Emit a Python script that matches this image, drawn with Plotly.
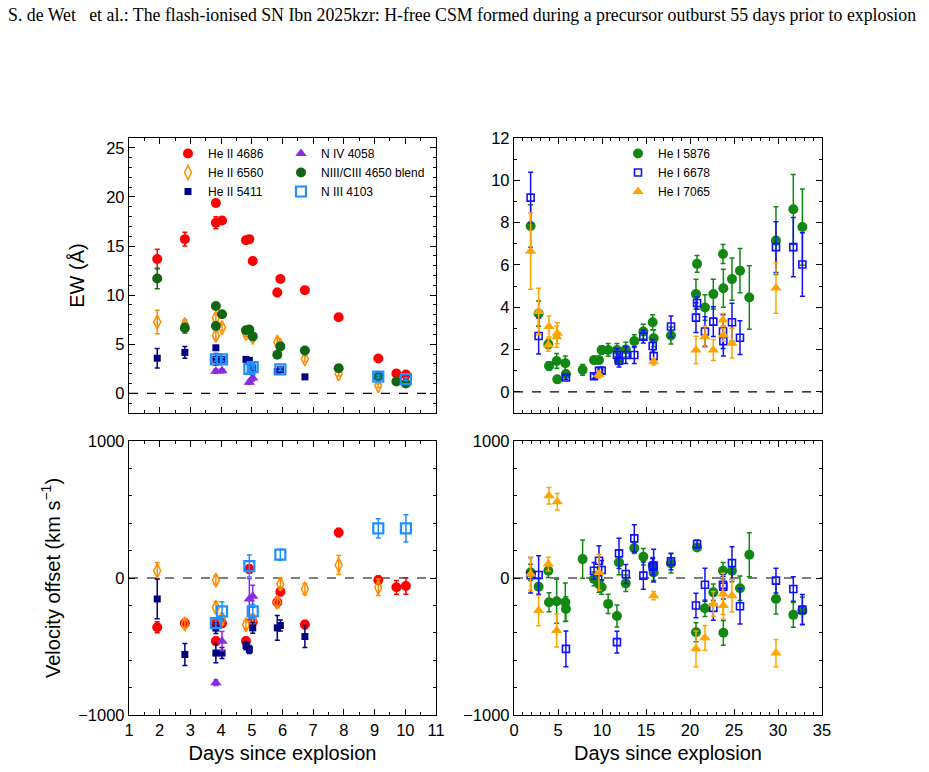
import plotly.graph_objects as go

# ---------------- He II / N lines (left panels) ----------------
heii4686_t = [1.92, 2.82, 3.83, 3.83, 4.03, 4.81, 4.92, 5.03, 5.83, 5.93, 6.73, 7.83, 9.12, 9.71, 10.02]
heii4686_ew = [13.68, 15.7, 19.38, 17.37, 17.6, 15.6, 15.7, 13.48, 10.27, 11.64, 10.51, 7.75, 3.55, 2.02, 1.91]
heii4686_ew_err = [1.0, 0.7, 0.3, 0.6, 0.3, 0.2, 0.2, 0.2, 0.4, 0.2, 0.2, 0.2, 0.2, 0.2, 0.2]
heii4686_v = [-359, -330, -461, -330, -330, -461, 65, -320, -177, -100, -340, 332, -15, -68, -58]
heii4686_v_err = [40, 30, 30, 30, 30, 30, 30, 30, 30, 30, 30, 30, 30, 50, 60]

heii6560_t = [1.92, 2.82, 3.83, 3.83, 4.03, 4.81, 5.03, 5.83, 5.93, 6.73, 7.83, 9.12]
heii6560_ew = [7.27, 7.0, 7.68, 5.9, 6.7, 6.1, 5.7, 5.22, 4.9, 3.52, 1.98, 0.79]
heii6560_ew_err = [1.2, 0.5, 0.4, 0.4, 0.3, 0.3, 0.3, 0.4, 0.3, 0.3, 0.2, 0.2]
heii6560_v = [53, -335, -15, -214, -300, -342, -306, -177, -44, -80, 95, -68]
heii6560_v_err = [60, 30, 30, 40, 40, 30, 40, 40, 40, 40, 70, 60]

heii5411_t = [1.92, 2.82, 3.83, 3.83, 4.03, 4.81, 4.92, 5.03, 5.83, 5.93, 6.73]
heii5411_ew = [3.58, 4.17, 4.64, 3.46, 3.46, 3.46, 3.36, 2.6, 2.22, 2.4, 1.68]
heii5411_ew_err = [1.0, 0.6, 0.15, 0.6, 0.2, 0.2, 0.2, 0.2, 0.2, 0.15, 0.15]
heii5411_v = [-153, -558, -366, -548, -548, -493, -522, -364, -364, -347, -427]
heii5411_v_err = [145, 80, 40, 70, 40, 30, 30, 40, 90, 40, 80]

niv4058_t = [3.83, 4.03, 4.92, 5.03]
niv4058_ew = [2.25, 2.3, 1.13, 1.57]
niv4058_ew_err = [0.2, 0.2, 0.2, 0.3]
niv4058_v = [-764, -461, -153, -133]
niv4058_v_err = [20, 70, 150, 80]

niii4650_t = [1.92, 2.82, 3.83, 3.83, 4.03, 4.81, 4.92, 5.03, 5.83, 5.93, 6.73, 7.83, 9.12, 9.71, 10.02]
niii4650_ew = [11.7, 6.65, 8.9, 6.86, 8.06, 6.42, 6.49, 5.8, 3.93, 4.78, 4.37, 2.56, 1.71, 1.2, 1.0]
niii4650_ew_err = [1.05, 0.5, 0.2, 0.2, 0.2, 0.2, 0.2, 0.2, 0.2, 0.2, 0.2, 0.2, 0.2, 0.1, 0.1]

niii4103_t = [3.83, 4.03, 4.92, 5.03, 5.93, 9.12, 10.02]
niii4103_ew = [3.46, 3.46, 2.5, 2.67, 2.45, 1.71, 1.45]
niii4103_ew_err = [0.2, 0.2, 0.2, 0.2, 0.15, 0.15, 0.15]
niii4103_v = [-330, -243, 87, -243, 170, 362, 362]
niii4103_v_err = [30, 70, 80, 50, 40, 70, 100]

# ---------------- He I lines (right panels) ----------------
hei5876_t = [1.89, 2.8, 3.9, 3.98, 4.85, 4.92, 5.83, 5.9, 7.8, 9.09, 9.66, 9.96, 10.7, 11.7, 11.93, 12.7,
             13.67, 14.7, 15.76, 15.87, 17.84, 20.68, 20.8, 21.7, 22.65, 23.75, 23.79, 24.77, 25.68,
             26.74, 29.77, 31.74, 32.77]
hei5876_ew = [7.84, 3.7, 2.25, 1.22, 1.46, 0.59, 1.35, 0.84, 1.04, 1.5, 1.5, 1.98, 1.98, 1.98, 1.47, 2.0,
              2.4, 2.85, 3.29, 2.53, 2.66, 4.62, 6.05, 3.99, 4.62, 6.52, 4.9, 5.33, 5.73,
              4.46, 7.15, 8.63, 7.79]
hei5876_ew_err = [1.0, 0.6, 0.2, 0.2, 0.35, 0.1, 0.35, 0.15, 0.25, 0.1, 0.1, 0.2, 0.3, 0.3, 0.15, 0.35,
                  0.3, 0.35, 0.35, 0.4, 0.4, 0.7, 0.4, 0.6, 0.7, 0.45, 0.9, 1.0, 1.05,
                  1.5, 1.6, 1.65, 1.8]
hei5876_vt = [1.89, 2.8, 3.9, 3.98, 4.85, 5.83, 5.9, 7.8, 9.09, 9.66, 9.96, 10.7, 11.7, 11.93, 12.7,
              13.67, 14.7, 15.76, 15.87, 17.84, 20.68, 20.8, 21.7, 22.65, 23.75, 23.79, 24.77, 25.68,
              26.74, 29.77, 31.74, 32.77]
hei5876_v = [41, -63, 53, -177, -170, -177, -226, 138, -7, -44, -68, -189, -277, 114, -39,
             218, 155, 90, 41, 107, -396, 223, -221, -104, 53, -400, 53, -75,
             170, -153, -269, -238]
hei5876_v_err = [60, 60, 50, 70, 160, 140, 90, 140, 50, 60, 50, 70, 80, 90, 60,
                 40, 60, 60, 60, 70, 70, 20, 60, 60, 60, 90, 80, 90,
                 160, 110, 90, 100]

hei6678_t = [1.89, 2.8, 5.9, 9.09, 9.66, 9.96, 11.7, 11.93, 12.7, 13.67, 14.7, 15.76, 15.87, 17.84,
             20.68, 20.8, 21.7, 22.65, 23.75, 23.79, 24.77, 25.68, 29.77, 31.74, 32.77]
hei6678_ew = [9.18, 2.64, 0.68, 0.74, 1.0, 1.0, 1.74, 1.47, 1.74, 1.74, 2.61, 2.17, 1.69, 3.09,
              3.51, 4.2, 2.85, 3.32, 2.85, 2.4, 3.29, 2.56, 6.84, 6.84, 6.02]
hei6678_ew_err = [1.2, 0.85, 0.1, 0.1, 0.15, 0.15, 0.3, 0.3, 0.4, 0.4, 0.3, 0.3, 0.3, 0.5,
                  0.7, 0.3, 0.7, 0.7, 0.8, 0.7, 0.9, 0.8, 1.2, 1.4, 1.5]
hei6678_v = [20, 22, -517, 53, 126, 58, -468, 180, 29, 289, 17, 83, 90, 121,
             -201, 248, -49, -218, -49, -63, 109, -206, -19, -80, -231]
hei6678_v_err = [130, 140, 130, 60, 110, 70, 80, 110, 70, 100, 100, 60, 120, 60,
                 90, 30, 120, 90, 60, 90, 120, 130, 90, 90, 110]

hei7065_t = [1.89, 2.8, 3.9, 3.98, 4.85, 4.92, 9.66, 15.87, 20.68, 21.7, 22.65, 23.75, 23.79, 24.77, 29.77]
hei7065_ew = [6.65, 3.8, 2.22, 3.09, 2.61, 2.77, 0.82, 1.42, 1.98, 2.61, 1.98, 3.4, 2.69, 2.3, 4.91]
hei7065_ew_err = [1.8, 1.1, 0.3, 0.5, 0.5, 0.5, 0.15, 0.15, 0.65, 0.5, 0.5, 0.3, 0.3, 0.7, 1.2]
hei7065_v = [29, -238, 102, 600, -383, 556, 41, -129, -517, -437, -189, -116, -201, -129, -548]
hei7065_v_err = [120, 110, 50, 60, 120, 60, 130, 30, 130, 90, 90, 150, 100, 120, 100]

# ---------------- styles ----------------
RED = "#FF0000"
ORANGE = "#FF8C00"
NAVY = "#000080"
PURPLE = "#8A2BE2"
DKGREEN = "#116611"
LTBLUE = "#1E90FF"
GREEN = "#118811"
BLUE = "#1010FF"
YORANGE = "#FFA500"

fig = go.Figure()


def add(x, y, err, ax, name, color, symbol, size, legend=None, lw=0, show=True):
    fig.add_trace(go.Scatter(
        x=x, y=y, mode="markers", name=name,
        xaxis="x" + ax, yaxis="y" + ax,
        marker=dict(color=color, symbol=symbol, size=size,
                    line=dict(color=color, width=lw)),
        error_y=dict(type="data", array=err, visible=True, color=color,
                     thickness=1.5, width=2.5),
        showlegend=show and legend is not None,
        legend=legend if legend else "legend",
    ))


# top-left EW
add(heii4686_t, heii4686_ew, heii4686_ew_err, "", "He II 4686", RED, "circle", 10, "legend")
add(heii6560_t, heii6560_ew, heii6560_ew_err, "", "He II 6560", ORANGE, "diamond-tall-open", 10, "legend", 1.5)
add(heii5411_t, heii5411_ew, heii5411_ew_err, "", "He II 5411", NAVY, "square", 7, "legend")
add(niv4058_t, niv4058_ew, niv4058_ew_err, "", "N IV 4058", PURPLE, "triangle-up", 10, "legend2")
add(niii4650_t, niii4650_ew, niii4650_ew_err, "", "NIII/CIII 4650 blend", DKGREEN, "circle", 10, "legend2")
add(niii4103_t, niii4103_ew, niii4103_ew_err, "", "N III 4103", LTBLUE, "square-open", 10, "legend2", 2.2)

# top-right EW
add(hei5876_t, hei5876_ew, hei5876_ew_err, "2", "He I 5876", GREEN, "circle", 10, "legend3")
add(hei6678_t, hei6678_ew, hei6678_ew_err, "2", "He I 6678", BLUE, "square-open", 7, "legend3", 1.6)
add(hei7065_t, hei7065_ew, hei7065_ew_err, "2", "He I 7065", YORANGE, "triangle-up", 10, "legend3")

# bottom-left velocities
add(heii4686_t, heii4686_v, heii4686_v_err, "3", "He II 4686", RED, "circle", 10)
add(heii6560_t, heii6560_v, heii6560_v_err, "3", "He II 6560", ORANGE, "diamond-tall-open", 10, None, 1.5)
add(heii5411_t, heii5411_v, heii5411_v_err, "3", "He II 5411", NAVY, "square", 7)
add(niv4058_t, niv4058_v, niv4058_v_err, "3", "N IV 4058", PURPLE, "triangle-up", 10)
add(niii4103_t, niii4103_v, niii4103_v_err, "3", "N III 4103", LTBLUE, "square-open", 10, None, 2.2)

# bottom-right velocities
add(hei5876_vt, hei5876_v, hei5876_v_err, "4", "He I 5876", GREEN, "circle", 10)
add(hei6678_t, hei6678_v, hei6678_v_err, "4", "He I 6678", BLUE, "square-open", 7, None, 1.6)
add(hei7065_t, hei7065_v, hei7065_v_err, "4", "He I 7065", YORANGE, "triangle-up", 10)

W, H = 929, 772
xl = [129 / W, 436 / W]
xr = [514 / W, 822 / W]
yt = [1 - 413 / H, 1 - 138 / H]
yb = [1 - 715 / H, 1 - 441 / H]

FONT = "Liberation Sans, Arial, sans-serif"
TICKFONT = dict(family=FONT, size=16.5, color="black")
TITLEFONT = dict(family=FONT, size=20, color="black")


def axstyle(dom, rng, dtick, mdtick, labels, anchor, title=None, standoff=None):
    d = dict(domain=dom, range=rng, dtick=dtick, tick0=0, showline=True, linecolor="black",
             linewidth=1.3, mirror="ticks", ticks="inside", ticklen=6, tickwidth=1.2,
             tickcolor="black", showgrid=False, zeroline=False, showticklabels=labels,
             tickfont=TICKFONT, anchor=anchor, automargin=False,
             minor=dict(ticks="inside", dtick=mdtick, ticklen=3, tickwidth=1, tickcolor="black",
                        showgrid=False))
    if title:
        d["title"] = dict(text=title, font=TITLEFONT, standoff=standoff)
    return d


LEG_Y = 1 - 139 / H
fig.update_layout(
    width=W, height=H, template="none",
    paper_bgcolor="white", plot_bgcolor="white",
    margin=dict(l=0, r=0, t=0, b=0),
    xaxis=axstyle(xl, [1, 11], 1, 0.5, False, "y"),
    yaxis=axstyle(yt, [-2, 26], 5, 1, True, "x", "EW (Å)", 16),
    xaxis2=axstyle(xr, [0, 35], 5, 1, False, "y2"),
    yaxis2=axstyle(yt, [-1, 12], 2, 1, True, "x2"),
    xaxis3=axstyle(xl, [1, 11], 1, 0.5, True, "y3", "Days since explosion", 8),
    yaxis3=axstyle(yb, [-1000, 1000], 1000, 200, True, "x3", "Velocity offset (km s<sup>−1</sup>)", 12),
    xaxis4=axstyle(xr, [0, 35], 5, 1, True, "y4", "Days since explosion", 8),
    yaxis4=axstyle(yb, [-1000, 1000], 1000, 200, True, "x4"),
    legend=dict(x=168 / W, y=LEG_Y, xanchor="left", yanchor="top", bgcolor="rgba(0,0,0,0)",
                font=dict(family=FONT, size=12, color="black"), tracegroupgap=0),
    legend2=dict(x=281 / W, y=LEG_Y, xanchor="left", yanchor="top", bgcolor="rgba(0,0,0,0)",
                 font=dict(family=FONT, size=12, color="black"), tracegroupgap=0),
    legend3=dict(x=618 / W, y=LEG_Y, xanchor="left", yanchor="top", bgcolor="rgba(0,0,0,0)",
                 font=dict(family=FONT, size=12, color="black"), tracegroupgap=0),
    showlegend=True,
)

for ax in ["", "2", "3", "4"]:
    fig.add_shape(type="line", xref=("x" + ax) + " domain", yref="y" + ax, x0=0, x1=1, y0=0, y1=0,
                  line=dict(color="black", width=1.2, dash="dash"), layer="below")

fig.add_annotation(
    text="S. de Wet\u00a0\u00a0\u00a0et al.: The flash-ionised SN Ibn 2025kzr: H-free CSM formed during a precursor outburst 55 days prior to explosion",
    xref="paper", yref="paper", x=6 / W, y=1 - 3 / H, xanchor="left", yanchor="top",
    showarrow=False, font=dict(family="Liberation Serif, Times New Roman, serif", size=17.8, color="black"))

fig.write_html("out.html")
